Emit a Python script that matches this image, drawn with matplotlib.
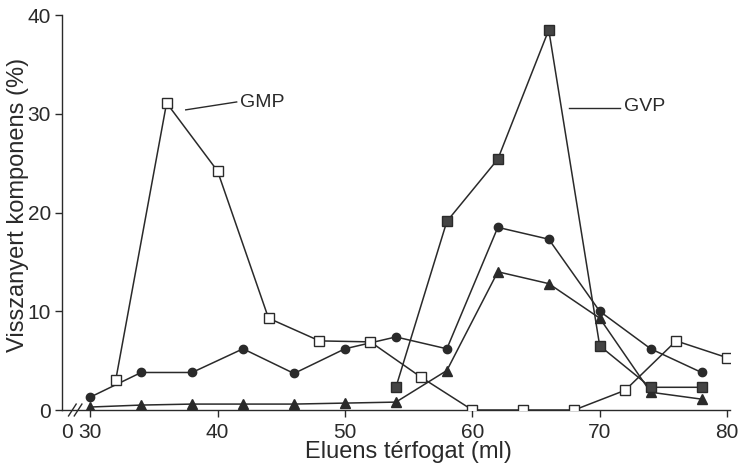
import matplotlib.pyplot as plt

# eluent volume (ml)
x_gmp = [32, 36, 40, 44, 48, 52, 56, 60, 64, 68, 72, 76, 80]
y_gmp = [3.0, 31.1, 24.2, 9.3, 7.0, 6.9, 3.3, 0.0, 0.0, 0.0, 2.0, 7.0, 5.3]

x_gvp = [54, 58, 62, 66, 70, 74, 78]
y_gvp = [2.3, 19.1, 25.4, 38.5, 6.5, 2.3, 2.3]

x_circ = [30, 34, 38, 42, 46, 50, 54, 58, 62, 66, 70, 74, 78]
y_circ = [1.3, 3.8, 3.8, 6.2, 3.7, 6.2, 7.4, 6.2, 18.5, 17.3, 10.0, 6.2, 3.8]

x_tri = [30, 34, 38, 42, 46, 50, 54, 58, 62, 66, 70, 74, 78]
y_tri = [0.3, 0.5, 0.6, 0.6, 0.6, 0.7, 0.8, 4.0, 14.0, 12.8, 9.3, 1.8, 1.1]

xtick_vals = [30, 40, 50, 60, 70, 80]
ytick_vals = [0, 10, 20, 30, 40]

plt.rcParams['font.family'] = ['Liberation Sans', 'DejaVu Sans']
ink = '#2a2a2a'

fig = plt.figure(figsize=(7.4, 4.71), dpi=100)
ax = fig.add_axes([0.084, 0.1295, 0.902, 0.8385])

lw = 1.1
ax.plot(x_circ, y_circ, '-o', color=ink, lw=lw, ms=6, mfc=ink, mec=ink)
ax.plot(x_tri, y_tri, '-^', color=ink, lw=lw, ms=7, mfc=ink, mec=ink)
ax.plot(x_gvp, y_gvp, '-s', color=ink, lw=lw, ms=6.5, mfc='#444444', mec=ink)
ax.plot(x_gmp, y_gmp, '-s', color=ink, lw=lw, ms=7, mfc='white', mec=ink, zorder=5)

x0 = 27.8
ax.set_xlim(x0, 80.2)
ax.set_ylim(0, 40)
ax.spines['top'].set_visible(False)
ax.spines['right'].set_visible(False)
for s in ('left', 'bottom'):
    ax.spines[s].set_color(ink)
    ax.spines[s].set_linewidth(1.0)

ax.set_xticks([x0 + 0.4] + xtick_vals)
ax.set_xticklabels(['0'] + [str(v) for v in xtick_vals])
ax.set_yticks(ytick_vals)
ax.tick_params(axis='both', colors=ink, labelsize=15, length=5, width=1)
ax.tick_params(axis='x', pad=4)
ax.tick_params(axis='y', pad=3)
ax.get_xticklines()[0].set_visible(False)
ax.get_xticklines()[1].set_visible(False)

# axis break marks
for dx in (0, 0.45):
    ax.plot([28.3 + dx, 28.9 + dx], [-0.6, 0.6], color=ink, lw=1, clip_on=False)

# annotations
ax.plot([37.5, 41.5], [30.4, 31.2], color=ink, lw=1)
ax.text(41.8, 31.1, 'GMP', fontsize=14, color=ink, va='center', ha='left')
ax.plot([67.6, 71.6], [30.6, 30.6], color=ink, lw=1)
ax.text(71.9, 30.7, 'GVP', fontsize=14, color=ink, va='center', ha='left')

fig.text(0.552, 0.028, 'Eluens térfogat (ml)', fontsize=17, color=ink, ha='center')
fig.text(0.024, 0.565, 'Visszanyert komponens (%)', fontsize=17, color=ink,
         rotation=90, ha='center', va='center')

fig.savefig('out.png', dpi=100)
